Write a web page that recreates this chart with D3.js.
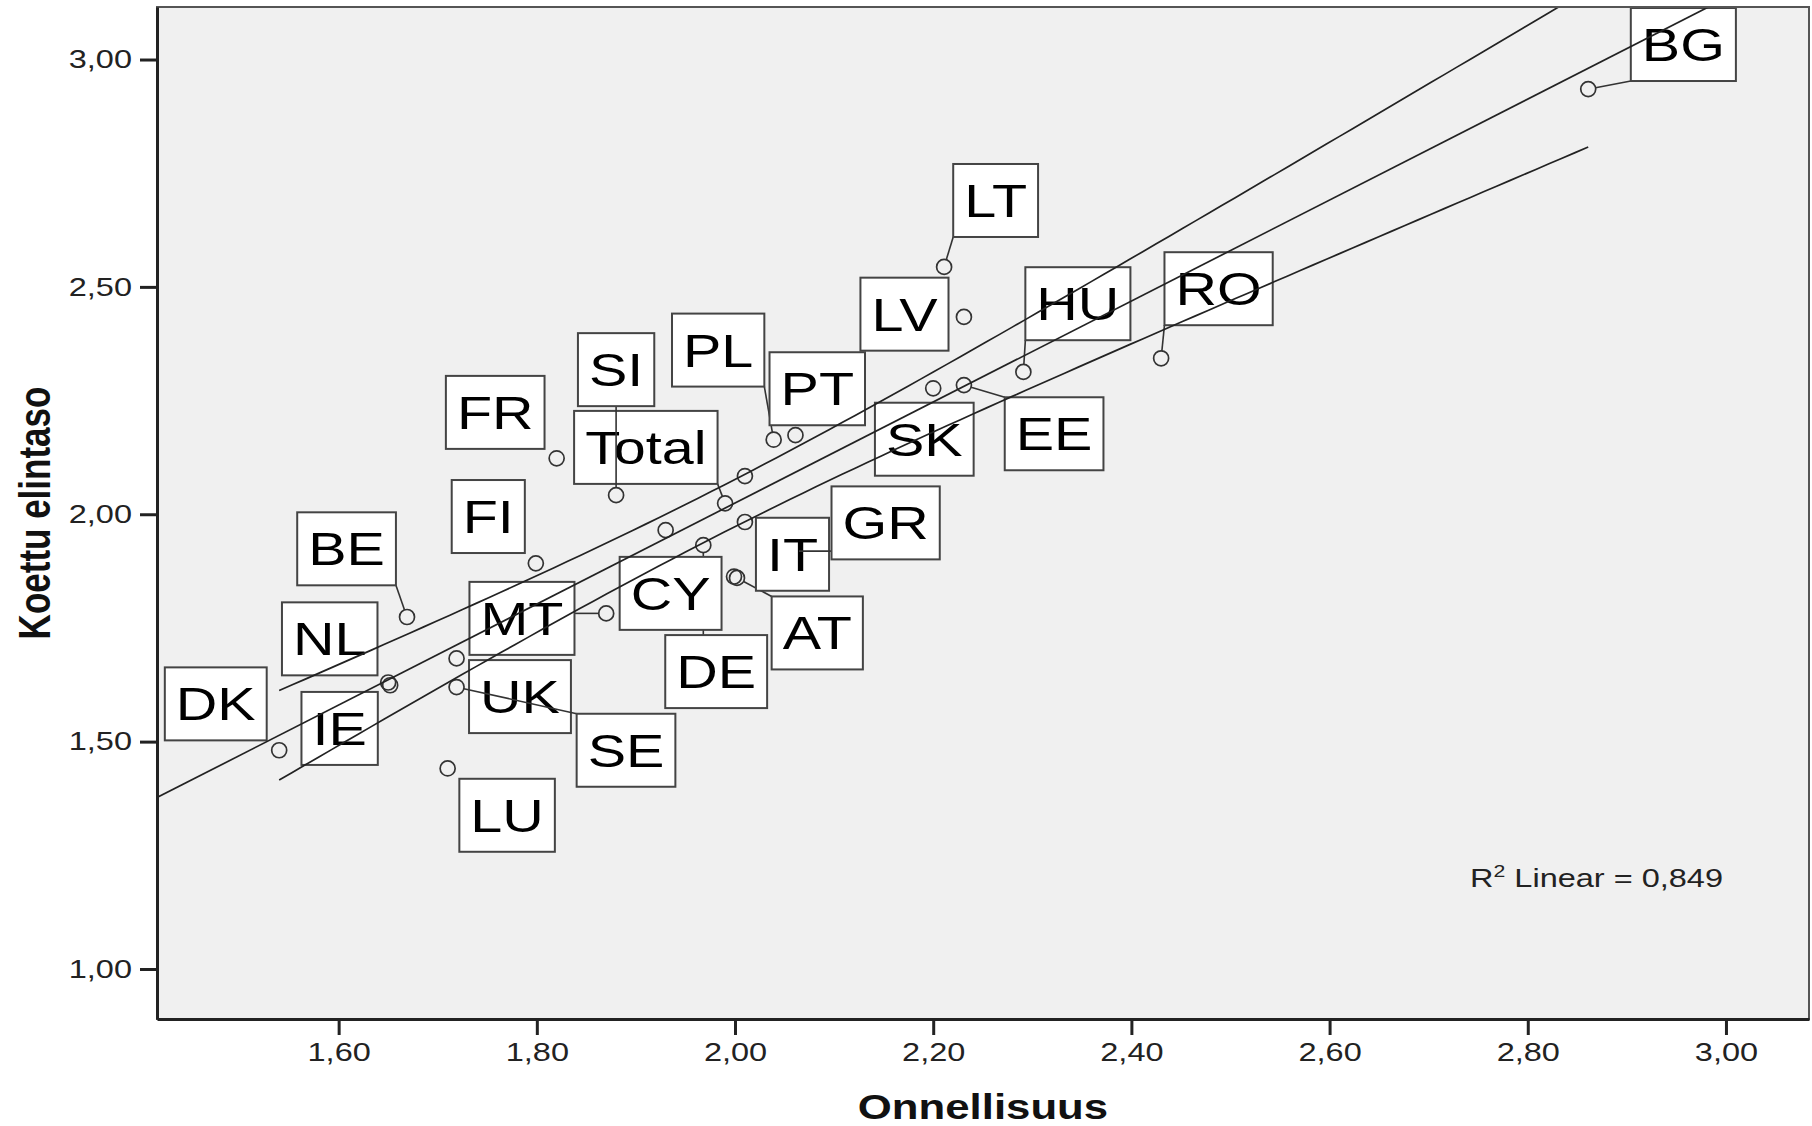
<!DOCTYPE html>
<html><head><meta charset="utf-8">
<script src="https://cdn.jsdelivr.net/npm/d3@7"></script>
<style>
body{margin:0;background:#fff;}
svg{display:block;}
text{font-family:"Liberation Sans",Arial,sans-serif;}
</style>
</head><body>
<script>
// ---- data ----
const countries   = ["BG","LT","LV","HU","RO","EE","SK","PL","PT","FR","Total","SI","FI","BE","NL","IE","DK","LU","MT","UK","SE","DE","AT","CY","IT","GR","",""];
const onnellisuus = [2.861,2.211,2.231,2.291,2.430,2.231,2.200,2.039,2.061,1.820,1.990,1.880,1.799,1.669,1.650,1.652,1.540,1.710,1.870,1.719,1.719,1.968,2.002,1.999,2.010,2.057,2.010,1.930];
const elintaso    = [2.935,2.544,2.434,2.313,2.343,2.284,2.277,2.164,2.174,2.123,2.024,2.042,1.892,1.774,1.630,1.624,1.481,1.441,1.782,1.683,1.620,1.932,1.860,1.863,1.983,1.919,2.084,1.965];
// label box centres, in data units (null = no label)
const labelX = [2.957,2.263,2.171,2.346,2.488,2.322,2.191,1.983,2.083,1.758,1.910,1.880,1.751,1.608,1.591,1.601,1.476,1.770,1.785,1.783,1.890,1.981,2.083,1.935,2.058,2.152,null,null];
const labelY = [3.033,2.690,2.440,2.463,2.496,2.177,2.165,2.361,2.276,2.224,2.147,2.318,1.995,1.924,1.726,1.529,1.583,1.338,1.771,1.599,1.481,1.654,1.739,1.826,1.912,1.981,null,null];
const xTicks = [1.6,1.8,2.0,2.2,2.4,2.6,2.8,3.0];
const yTicks = [1.0,1.5,2.0,2.5,3.0];
const xDomain = [1.4167, 3.0838];
const yDomain = [0.890, 3.1155];
const xTitle = "Onnellisuus";
const yTitle = "Koettu elintaso";
const r2Value = "0,849";
const tCrit = 2.056; // t(0.975, df = n-2)

// ---- layout ----
const W = 1812, H = 1126;
const M = {left:157, right:1809, top:7, bottom:1019};
const SX = 1.25; // horizontal stretch of all type in the reference
const svg = d3.select("body").append("svg").attr("width", W).attr("height", H);
const x = d3.scaleLinear().domain(xDomain).range([M.left, M.right]);
const y = d3.scaleLinear().domain(yDomain).range([M.bottom, M.top]);
const fmt = d3.formatLocale({decimal:",", thousands:" ", grouping:[3], currency:["",""]}).format(".2f");

svg.append("defs").append("clipPath").attr("id","clip").append("rect")
  .attr("x", M.left).attr("y", M.top).attr("width", M.right-M.left).attr("height", M.bottom-M.top);

svg.append("rect").attr("x", M.left).attr("y", M.top)
  .attr("width", M.right-M.left).attr("height", M.bottom-M.top)
  .attr("fill", "#f0f0f0");

const data = countries.map((c,i)=>({c, x:onnellisuus[i], y:elintaso[i], lx:labelX[i], ly:labelY[i]}));

// points
const R = 7.5;
svg.append("g").selectAll("circle").data(data).join("circle")
  .attr("cx", d=>x(d.x)).attr("cy", d=>y(d.y)).attr("r", R)
  .attr("fill","none").attr("stroke","#333").attr("stroke-width",1.7);

// labels with leaders
const labG = svg.append("g");
const FS = 46, PAD = 11, BH = 73;
data.filter(d=>d.lx!=null && d.c!=="").forEach(d=>{
  const g = labG.append("g");
  const cx = x(d.lx), cy = y(d.ly);
  const t = g.append("text").attr("font-size", FS).text(d.c);
  const tw = t.node().getComputedTextLength()*SX;
  t.remove();
  const bw = tw + 2*PAD;
  const x1 = cx - bw/2, x2 = cx + bw/2, y1 = cy - BH/2, y2 = cy + BH/2;
  const px = x(d.x), py = y(d.y);
  const qx = Math.max(x1, Math.min(x2, px)), qy = Math.max(y1, Math.min(y2, py));
  const dist = Math.hypot(qx-px, qy-py);
  if (dist > R + 10) {
    const ux = (qx-px)/dist, uy = (qy-py)/dist;
    g.append("line").attr("x1", px+ux*R).attr("y1", py+uy*R).attr("x2", qx).attr("y2", qy)
      .attr("stroke","#333").attr("stroke-width",1.6);
  }
  g.append("rect").attr("x", x1).attr("y", y1).attr("width", bw).attr("height", BH)
    .attr("fill","#fff").attr("stroke","#444").attr("stroke-width",2);
  g.append("text").attr("font-size", FS).attr("fill","#000")
    .attr("text-anchor","middle")
    .attr("transform", `translate(${cx},${cy+16.5}) scale(${SX},1)`)
    .text(d.c);
});

// regression + 95% mean CI, computed from the points
const n = data.length;
const mx = d3.mean(data, d=>d.x), my = d3.mean(data, d=>d.y);
const sxx = d3.sum(data, d=>(d.x-mx)**2);
const sxy = d3.sum(data, d=>(d.x-mx)*(d.y-my));
const b = sxy/sxx, a = my - b*mx;
const sse = d3.sum(data, d=>(d.y-(a+b*d.x))**2);
const s = Math.sqrt(sse/(n-2));
const [xmin, xmax] = d3.extent(data, d=>d.x);
const xs = d3.range(0, 101).map(i=> xmin + (xmax-xmin)*i/100);
const hw = xv => tCrit*s*Math.sqrt(1/n + (xv-mx)**2/sxx);
const line = d3.line().x(d=>x(d[0])).y(d=>y(d[1]));
const regG = svg.append("g").attr("clip-path","url(#clip)")
  .attr("fill","none").attr("stroke","#222").attr("stroke-width",1.7);
regG.append("path").attr("d", line([[xDomain[0], a+b*xDomain[0]],[xDomain[1], a+b*xDomain[1]]]));
regG.append("path").attr("d", line(xs.map(v=>[v, a+b*v+hw(v)])));
regG.append("path").attr("d", line(xs.map(v=>[v, a+b*v-hw(v)])));

// frame
svg.append("rect").attr("x", M.left).attr("y", M.top)
  .attr("width", M.right-M.left).attr("height", M.bottom-M.top)
  .attr("fill","none").attr("stroke","#555").attr("stroke-width",2);

// axes
const stretchTicks = sel => sel.selectAll(".tick text").each(function(){
  const el = d3.select(this);
  const tx = +el.attr("x") || 0, ty = +el.attr("y") || 0;
  el.attr("x", null).attr("y", null)
    .attr("transform", `translate(${tx},${ty}) scale(${SX},1)`);
});
const ax = svg.append("g").attr("transform", `translate(0,${M.bottom})`)
  .call(d3.axisBottom(x).tickValues(xTicks).tickFormat(fmt).tickSize(16).tickSizeOuter(0).tickPadding(8));
const ay = svg.append("g").attr("transform", `translate(${M.left},0)`)
  .call(d3.axisLeft(y).tickValues(yTicks).tickFormat(fmt).tickSize(17).tickSizeOuter(0).tickPadding(8));
[ax, ay].forEach(g=>{
  g.select(".domain").attr("stroke","#222").attr("stroke-width",3);
  g.selectAll(".tick line").attr("stroke","#222").attr("stroke-width",3);
  g.selectAll(".tick text").attr("font-size",26).attr("fill","#222")
    .attr("font-family","'Liberation Sans',Arial,sans-serif");
  stretchTicks(g);
});

// titles
svg.append("text").attr("font-size",35).attr("font-weight","bold").attr("fill","#111")
  .attr("text-anchor","middle")
  .attr("transform", `translate(${(M.left+M.right)/2},1119) scale(${SX},1)`)
  .text(xTitle);
svg.append("text").attr("font-size",35).attr("font-weight","bold").attr("fill","#111")
  .attr("text-anchor","middle")
  .attr("transform", `translate(50,${(M.top+M.bottom)/2}) scale(${SX},1) rotate(-90)`)
  .text(yTitle);

// R² annotation
const rt = svg.append("text").attr("font-size",26).attr("fill","#222")
  .attr("text-anchor","end")
  .attr("transform", `translate(1723,887) scale(${SX},1)`);
rt.append("tspan").text("R");
rt.append("tspan").attr("font-size",17).attr("dy",-10).text("2");
rt.append("tspan").attr("dy",10).text(" Linear = " + r2Value);
</script>
</body></html>
